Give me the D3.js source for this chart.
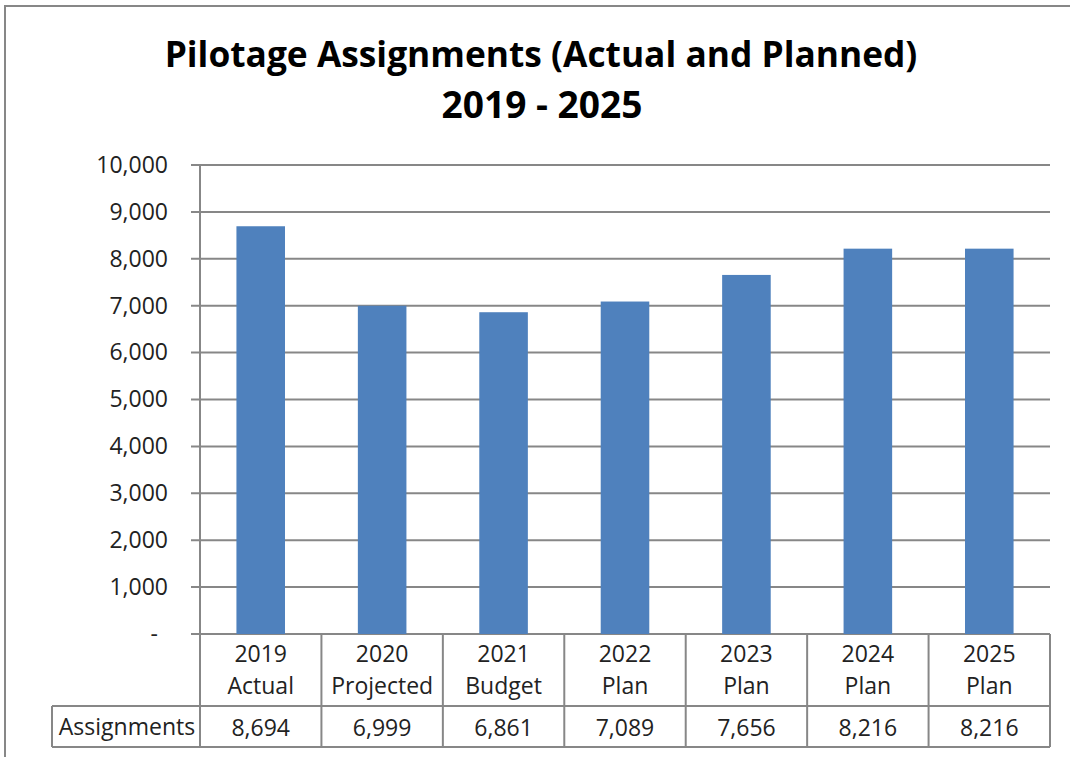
<!DOCTYPE html>
<html>
<head>
<meta charset="utf-8">
<script src="https://cdn.jsdelivr.net/npm/d3@7"></script>
<style>
  body { margin: 0; background: #fff; }
  text { font-family: "Open Sans", "Noto Sans", sans-serif; }
</style>
</head>
<body>
<div id="chart"></div>
<script>
// chart data
const years = ["2019", "2020", "2021", "2022", "2023", "2024", "2025"];
const kinds = ["Actual", "Projected", "Budget", "Plan", "Plan", "Plan", "Plan"];
const assignments = [8694, 6999, 6861, 7089, 7656, 8216, 8216];
const yTicks = [0, 1000, 2000, 3000, 4000, 5000, 6000, 7000, 8000, 9000, 10000];
const seriesName = "Assignments";
const titleLines = ["Pilotage Assignments (Actual and Planned)", "2019 - 2025"];

const W = 1070, H = 757;
const plot = { left: 200, right: 1050, top: 165, bottom: 634 };
const rowCat = 706, rowVal = 747, tableLeft = 52;
const grey = "#878787";
const fs = 23;

const svg = d3.select("#chart").append("svg")
  .attr("width", W).attr("height", H);

// outer frame (left and top edges visible)
svg.append("path")
  .attr("d", `M5,${H} L5,6 L${W},6`)
  .attr("fill", "none").attr("stroke", grey).attr("stroke-width", 2);

// title, fitted to the reference widths
const titleSpec = [
  { cx: 541, y: 67, w: 753 },
  { cx: 542, y: 118, w: 201 }
];
titleLines.forEach(function (t, i) {
  const el = svg.append("text")
    .attr("x", titleSpec[i].cx).attr("y", titleSpec[i].y)
    .attr("text-anchor", "middle")
    .attr("font-weight", "bold")
    .attr("font-size", 34)
    .attr("fill", "#000")
    .text(t);
  const len = el.node().getComputedTextLength();
  el.attr("font-size", 34 * titleSpec[i].w / len);
});

const x = d3.scaleBand().domain(years)
  .range([plot.left, plot.right]).paddingInner(0.6).paddingOuter(0.3);
const y = d3.scaleLinear().domain([0, 10000]).range([plot.bottom, plot.top]);

// gridlines
svg.append("g")
  .selectAll("line")
  .data(yTicks)
  .join("line")
  .attr("x1", plot.left - 9).attr("x2", plot.right)
  .attr("y1", d => y(d)).attr("y2", d => y(d))
  .attr("stroke", grey).attr("stroke-width", 2);

// bars
svg.append("g")
  .selectAll("rect")
  .data(assignments)
  .join("rect")
  .attr("x", (d, i) => x(years[i]))
  .attr("y", d => y(d))
  .attr("width", x.bandwidth())
  .attr("height", d => y(0) - y(d))
  .attr("fill", "#4F81BD");

// y axis
const yAxis = svg.append("g")
  .attr("transform", `translate(${plot.left},0)`)
  .call(d3.axisLeft(y).tickValues(yTicks).tickSize(9).tickPadding(23)
    .tickFormat(d => d === 0 ? "-" : d3.format(",")(d)));
yAxis.select(".domain").remove();
yAxis.selectAll(".tick line").remove();
yAxis.selectAll("text")
  .attr("font-size", fs)
  .attr("font-family", "Open Sans")
  .attr("fill", "#222")
  .attr("dx", d => d === 0 ? -10 : 0);
svg.append("line")
  .attr("x1", plot.left).attr("x2", plot.left)
  .attr("y1", plot.top).attr("y2", rowVal)
  .attr("stroke", grey).attr("stroke-width", 2);

// data table
const step = x.step();
const colX = years.map((d, i) => plot.left + i * step);
const table = svg.append("g")
  .attr("stroke", grey).attr("stroke-width", 2).attr("fill", "none");
colX.slice(1).concat([plot.right]).forEach(function (cx) {
  table.append("line").attr("x1", cx).attr("x2", cx)
    .attr("y1", plot.bottom).attr("y2", rowVal);
});
table.append("line").attr("x1", tableLeft).attr("x2", plot.right)
  .attr("y1", rowCat).attr("y2", rowCat);
table.append("line").attr("x1", tableLeft).attr("x2", plot.right)
  .attr("y1", rowVal).attr("y2", rowVal);
table.append("line").attr("x1", tableLeft).attr("x2", tableLeft)
  .attr("y1", rowCat).attr("y2", rowVal);

const labels = svg.append("g")
  .attr("font-size", fs).attr("fill", "#222").attr("text-anchor", "middle");
years.forEach(function (yr, i) {
  const cx = x(yr) + x.bandwidth() / 2;
  labels.append("text").attr("x", cx).attr("y", 662).text(yr);
  labels.append("text").attr("x", cx).attr("y", 694).text(kinds[i]);
  labels.append("text").attr("x", cx).attr("y", 736).text(d3.format(",")(assignments[i]));
});
labels.append("text")
  .attr("x", (tableLeft + plot.left) / 2 + 1).attr("y", 735)
  .text(seriesName);
</script>
</body>
</html>
